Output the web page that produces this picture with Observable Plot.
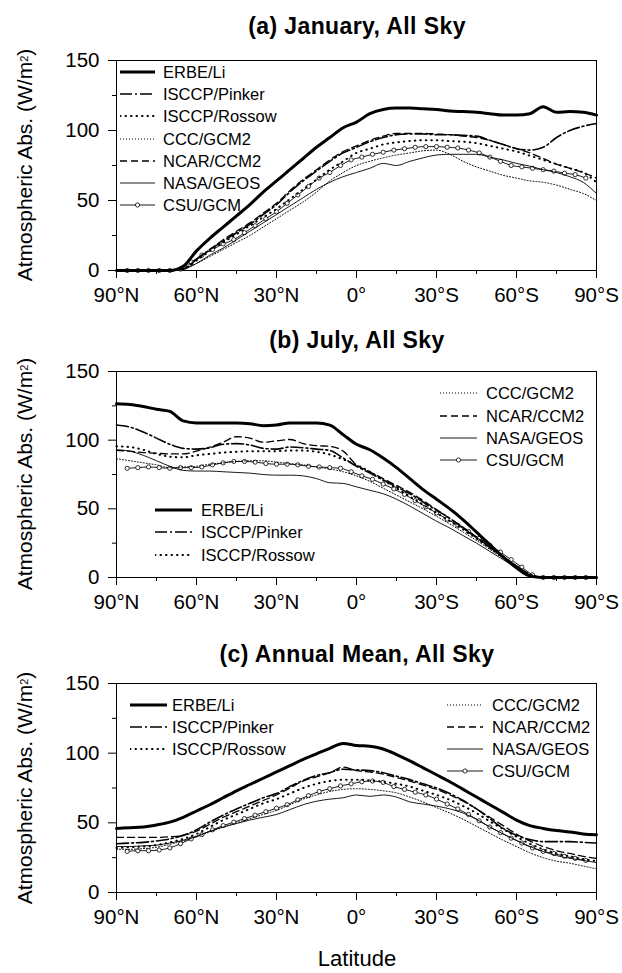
<!DOCTYPE html>
<html><head><meta charset="utf-8">
<script src="https://cdn.jsdelivr.net/npm/d3@7"></script>
<script src="https://cdn.jsdelivr.net/npm/@observablehq/plot@0.6"></script>
<style>
body{margin:0;background:#fff;}
#wrap{position:relative;width:622px;height:973px;font-family:"Liberation Sans",Arial,Helvetica,sans-serif;color:#000;overflow:hidden;background:#fff;}
.abs{position:absolute;}
.title{font-weight:bold;font-size:23px;line-height:24px;white-space:nowrap;transform:translateX(-50%);letter-spacing:0.4px;}
.ylab{font-size:21px;line-height:22px;white-space:nowrap;transform:translate(-50%,-50%) rotate(-90deg);}
.leg{font-size:16.5px;line-height:20px;white-space:nowrap;}
.xlab{font-size:22px;line-height:22px;white-space:nowrap;transform:translateX(-50%);}
sup{font-size:11px;vertical-align:top;position:relative;top:-1px;}
</style></head><body><div id="wrap"></div>
<script>
// ---------- data ----------
const lat5 = [90,85,80,75,70,65,60,55,50,45,40,35,30,25,20,15,10,5,0,-5,-10,-15,-20,-25,-30,-35,-40,-45,-50,-55,-60,-65,-70,-75,-80,-85,-90];
const lat4 = [86,82,78,74,70,66,62,58,54,50,46,42,38,34,30,26,22,18,14,10,6,2,-2,-6,-10,-14,-18,-22,-26,-30,-34,-38,-42,-46,-50,-54,-58,-62,-66,-70,-74,-78,-82,-86];

const seriesNames = ["ERBE/Li","ISCCP/Pinker","ISCCP/Rossow","CCC/GCM2","NCAR/CCM2","NASA/GEOS","CSU/GCM"];
const xTickLabels = ["90°N","60°N","30°N","0°","30°S","60°S","90°S"];
const xTicks = [90,60,30,0,-30,-60,-90];
const xMinor = [75,45,15,-15,-45,-75];
const yTicks = [0,50,100,150];
const yMinor = [25,75,125];
const panelTitles = ["(a) January, All Sky","(b) July, All Sky","(c) Annual Mean, All Sky"];

// January
const janERBE   = [0,0,0,0,0,3,14,23,31,39,47,56,64,72,80,88,95,102,106,112,115,116,116,115.5,115,114,113.5,113,112,111,111,112,117,113,113.5,113,111];
const janPinker = [0,0,0,0,0,1,8,15,21,27,33,40,47,56,64,71,78,84,88,92,95,97,97.5,97.5,97,97,96.5,96,93,90,87,86,88,95,100,103,105];
const janRossow = [0,0,0,0,0,1,7,14,20,26,32,38,44,51,58,65,72,78,84,87,90,91.5,92.5,93,93,92.5,92,91,89,87,85,82,79,76,73,70,63];
const janCCC    = [0,0,0,0,0,1,5,10,15,20,25,31,37,43,49,56,64,70,75,78,80.5,82.5,84,85.5,86,83,78,74,71,68,66,64,63,61,58,55,50];
const janNCAR   = [0,0,0,0,0,1,8,15,22,28,34,41,48,57,65,72,79,85,89,93,96,98,98,98,97.5,97,96,95,93,90,87,84,80,76,73,70,66];
const janNASA   = [0,0,0,0,0,1,5,11,16,22,28,34,40,46,52,58,63,67,70,73,76.5,75,78,80.5,82.5,83,83,83,81,79,76.5,74.5,72,70,67,63,55];
const janCSU    = [0,0,0,0,0,1,6,11,15,19,22,27,32,37,42,48,54,60,66,70,75,79,81,83,84.5,86,87,88,88.5,88.5,88,87.5,86,84,81,78,75,74,73,72,71,69.5,68.5,66];

// July
const julERBE   = [126.5,126,124.5,122.5,121,114,112.5,112.5,112.5,112.5,112,110.5,111,112.5,112.5,112.5,111,104,97,93,87,80,72,64,57,50,42,33,24,15,7,1,0,0,0,0,0];
const julPinker = [111,109.5,106,101.5,97,94,93.5,94.5,97,97.5,96.5,94,93.5,95,94.5,93.5,92.5,87,81,76,71,66,61,55,49,43,36,29,22,15,8.5,2.5,0,0,0,0,0];
const julRossow = [95.5,95,93,90,88,87.5,89,90,91,91.5,92,92,92,92.5,92.5,91.5,89.5,86,82,77,71,65,59,53,47,41,35,28.5,21.5,14.5,8,2,0,0,0,0,0];
const julCCC    = [86.5,85,83.5,82,80,80.5,81,82.5,83.5,84.5,85,85,84,83,82,80.5,79,77,74,70,65,60,55,50,44.5,39,33,27,20.5,14,7.5,1.5,0,0,0,0,0];
const julNCAR   = [92.5,92,91,90.5,90,90,92,95,98.5,102.5,101.5,98.5,99.5,100.5,97.5,96,95.5,92,82,77,72,67,62,56,49.5,43,36.5,29.5,22,15,8.5,2,0,0,0,0,0];
const julNASA   = [93,92,89,85,81,78,77.5,77.5,77,76.5,76,75,74.5,74.5,74,72,69,68.5,66,63.5,61,57,52,46.5,41,36,30.5,25,19,13,7,1.5,0,0,0,0,0];
const julCSU    = [79.5,80,80.5,80,79.5,80,80,80.5,82,83.5,84.5,84.5,84,83,82.5,82.5,82,81,80.5,80,79.5,77,74,71.5,68,64.5,60.5,56,51.5,47,42.5,38,33.5,28.5,23.5,18.5,13,7.5,2,0,0,0,0,0];

// Annual mean
const annERBE   = [46,46.5,47,48.5,50.5,54,58.5,63,68,73,77.5,82,86.5,91,95.5,99.5,103.5,107,105.5,105,103,99,94.5,89.5,84.5,79.5,74,68.5,63,57.5,52,48,46,44.5,43.5,42,41.5];
const annPinker = [35,35.5,36,37,38.5,41,45,50.5,55.5,60,64,68,71,76,80.5,84,86,88.5,88,87.5,86,83.5,81,78,75,71,66,60,53,46,41,38,36.5,36.5,36.5,36,35.5];
const annRossow = [32,32.5,33,34,36,38.5,42,47,52,56,60,64,67,71,75,78,80,81,81,80.5,79.5,78,76,73,70,66.5,62,57,51,45.5,40,35,31,28,26,24,22.5];
const annCCC    = [31,31,31.5,32.5,34.5,37,40,43.5,47,50,53,56,59,63,67,70,72.5,74,74.5,74,73,71.5,68.5,65,61,57,52.5,47.5,42.5,37.5,33,28.5,25,22.5,21,19,17];
const annNCAR   = [39.5,39.5,39.5,39.5,40,41,44,49,54,58,62,66,70,75,80,83,86,90,87.5,86.5,85,82.5,80,77,74,70,65.5,60,54,48,42,37,33,30,28,26,24.5];
const annNASA   = [33,33,33.5,34,35.5,37.5,40.5,44,47,49.5,52,54,56,59.5,63,65.5,67,68,70,69,70,68.5,65,63.5,62,60,57,52.5,47,42,37.5,33,29.5,26.5,24.5,23,21.5];
const annCSU    = [29.5,30,30,30.5,32,35,38.5,41.5,45,48,50.5,53,55.5,58,60.5,63,66.5,69.5,72.5,74.5,76.5,78,79.5,80,79,76,74,72,70,67,63.5,60,56,51.5,47,43,39,35.5,32,29.5,28,26,24.5,23];

// ---------- styles ----------
const styles = {
  "ERBE/Li":      {strokeWidth: 3},
  "ISCCP/Pinker": {strokeWidth: 1.6, strokeDasharray: "12,3,2,3"},
  "ISCCP/Rossow": {strokeWidth: 2, strokeDasharray: "0.5,5", strokeLinecap: "round"},
  "CCC/GCM2":     {strokeWidth: 1, strokeDasharray: "1,2"},
  "NCAR/CCM2":    {strokeWidth: 1.3, strokeDasharray: "7,4"},
  "NASA/GEOS":    {strokeWidth: 0.9},
  "CSU/GCM":      {strokeWidth: 0.9}
};

const panels = [
  {arrays: [janERBE,janPinker,janRossow,janCCC,janNCAR,janNASA,janCSU], svgTop: 50, inner: 210, titleTop: 13.5,
   legends: [{names: seriesNames, x0: 120, x1: 155, tx: 163, ys: [72,94,116,138.5,160.5,183,205]}]},
  {arrays: [julERBE,julPinker,julRossow,julCCC,julNCAR,julNASA,julCSU], svgTop: 361, inner: 206, titleTop: 328,
   legends: [{names: seriesNames.slice(0,3), x0: 155, x1: 192, tx: 201, ys: [510,532,555]},
             {names: seriesNames.slice(3), x0: 440, x1: 477, tx: 486, ys: [393,416,438,460]}]},
  {arrays: [annERBE,annPinker,annRossow,annCCC,annNCAR,annNASA,annCSU], svgTop: 673, inner: 209, titleTop: 641.5,
   legends: [{names: seriesNames.slice(0,3), x0: 130, x1: 167, tx: 172, ys: [705,727,749]},
             {names: seriesNames.slice(3), x0: 447, x1: 483, tx: 492, ys: [705,727,749,771]}]}
];

const wrap = document.getElementById("wrap");
const fmt = d => xTickLabels[xTicks.indexOf(d)];
const MT = 10, MB = 35;

function addDiv(cls, html, left, top) {
  const d = document.createElement("div");
  d.className = "abs " + cls;
  d.innerHTML = html;
  d.style.left = left + "px";
  d.style.top = top + "px";
  wrap.appendChild(d);
  return d;
}

function swatch(name, x0, x1, y) {
  const w = x1 - x0;
  const ns = "http://www.w3.org/2000/svg";
  const s = document.createElementNS(ns, "svg");
  s.setAttribute("width", w); s.setAttribute("height", 10);
  s.style.position = "absolute"; s.style.left = x0 + "px"; s.style.top = (y - 5) + "px";
  const l = document.createElementNS(ns, "line");
  l.setAttribute("x1", 0); l.setAttribute("x2", w); l.setAttribute("y1", 5); l.setAttribute("y2", 5);
  l.setAttribute("stroke", "black");
  const st = styles[name];
  l.setAttribute("stroke-width", st.strokeWidth);
  if (st.strokeDasharray) l.setAttribute("stroke-dasharray", st.strokeDasharray);
  if (st.strokeLinecap) l.setAttribute("stroke-linecap", st.strokeLinecap);
  s.appendChild(l);
  if (name === "CSU/GCM") {
    const c = document.createElementNS(ns, "circle");
    c.setAttribute("cx", w / 2); c.setAttribute("cy", 5); c.setAttribute("r", 2.1);
    c.setAttribute("fill", "white"); c.setAttribute("stroke", "black"); c.setAttribute("stroke-width", 0.8);
    s.appendChild(c);
  }
  wrap.appendChild(s);
}

panels.forEach((p, pi) => {
  const marks = [
    Plot.frame({stroke: "black", strokeWidth: 1}),
    Plot.axisX({ticks: xTicks, tickSize: 8, tickPadding: 9, tickFormat: fmt, label: null, fontSize: 20.5}),
    Plot.axisX({ticks: xMinor, tickSize: 4, tickFormat: () => "", label: null}),
    Plot.axisY({ticks: yTicks, tickSize: 8, tickPadding: 9, label: null, fontSize: 20.5}),
    Plot.axisY({ticks: yMinor, tickSize: 4, tickFormat: () => "", label: null})
  ];
  const order = [6,5,3,4,2,1,0];
  order.forEach(i => {
    const name = seriesNames[i];
    const lats = name === "CSU/GCM" ? lat4 : lat5;
    const data = lats.map((lat, k) => ({lat, v: p.arrays[i][k]}));
    marks.push(Plot.line(data, {x: "lat", y: "v", stroke: "black", curve: "monotone-x", ...styles[name]}));
    if (name === "CSU/GCM") {
      marks.push(Plot.dot(data, {x: "lat", y: "v", r: 2.1, fill: "white", stroke: "black", strokeWidth: 0.8}));
    }
  });
  const svg = Plot.plot({
    width: 622, height: MT + p.inner + MB,
    marginLeft: 116, marginRight: 26, marginTop: MT, marginBottom: MB,
    style: {fontFamily: "'Liberation Sans', Arial, Helvetica, sans-serif", fontSize: "20.5px", color: "black", background: "transparent", overflow: "visible"},
    x: {domain: [90, -90], label: null},
    y: {domain: [0, 150], label: null},
    marks
  });
  svg.style.position = "absolute";
  svg.style.left = "0px";
  svg.style.top = p.svgTop + "px";
  wrap.appendChild(svg);

  addDiv("title", panelTitles[pi], 357, p.titleTop);
  addDiv("ylab", "Atmospheric Abs. (W/m<sup>2</sup>)", 25, p.svgTop + MT + p.inner / 2);

  p.legends.forEach(L => {
    L.names.forEach((name, k) => {
      swatch(name, L.x0, L.x1, L.ys[k]);
      addDiv("leg", name, L.tx, L.ys[k] - 10);
    });
  });
});
addDiv("xlab", "Latitude", 357, 948);
</script></body></html>
